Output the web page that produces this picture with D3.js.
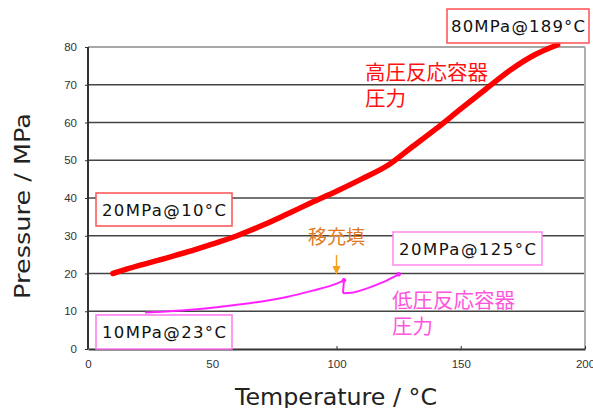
<!DOCTYPE html>
<html><head><meta charset="utf-8">
<script src="https://cdn.jsdelivr.net/npm/d3@7"></script>
<style>
body{margin:0;background:#fff;}
svg{display:block;}
</style></head>
<body>
<svg id="c" width="593" height="408"></svg>
<script>
// ---- data ----
const xTicks = [0, 50, 100, 150, 200];
const yTicks = [0, 10, 20, 30, 40, 50, 60, 70, 80];
const highTemp = [10, 20, 30, 40, 50, 60, 70, 80, 90, 100, 110, 121, 130, 140, 150, 160, 170, 180, 189];
const highPres = [20, 22, 23.8, 25.7, 27.8, 30, 32.7, 35.7, 38.8, 41.8, 45, 48.8, 53.3, 58.3, 63.6, 68.8, 73.9, 78, 80.6];
const lowTempA = [23, 30, 40, 50, 60, 70, 80, 90, 100, 103];
const lowPresA = [9.7, 9.9, 10.3, 10.9, 11.7, 12.6, 13.8, 15.4, 17.3, 18.2];
const lowTempB = [102.6, 106, 112, 118, 125];
const lowPresB = [14.8, 14.9, 16.0, 17.5, 19.8];
const boxLabels = ["80MPa@189°C", "20MPa@10°C", "10MPa@23°C", "20MPa@125°C"];
const arrowTemp = 100;

const svg = d3.select("#c");
const x = d3.scaleLinear([0, 200], [88, 585]);
const y = d3.scaleLinear([0, 80], [349, 47]);

// grid lines
svg.append("g").selectAll("line").data(yTicks.filter(d => d > 0)).join("line")
  .attr("x1", x(0)).attr("x2", x(200))
  .attr("y1", d => y(d)).attr("y2", d => y(d))
  .attr("stroke", d => d === 80 ? "#8a8a8a" : "#444").attr("stroke-width", 1.6);
// right border
svg.append("line").attr("x1", x(200)).attr("x2", x(200)).attr("y1", y(80)).attr("y2", y(0))
  .attr("stroke", "#b0b0b0").attr("stroke-width", 2);

// axes
const yAxis = svg.append("g").attr("transform", `translate(${x(0)},0)`)
  .call(d3.axisLeft(y).tickValues(yTicks).tickSize(3).tickPadding(8));
yAxis.select(".domain").attr("stroke", "#333").attr("stroke-width", 2).attr("d", `M0,${y(80)}V${y(0)}`);
yAxis.selectAll(".tick line").attr("stroke", "#333");
yAxis.selectAll("text").attr("font-family", "Liberation Sans, Arial, sans-serif").attr("font-size", 11.5).attr("fill", "#333");

const xAxis = svg.append("g").attr("transform", `translate(0,${y(0)})`)
  .call(d3.axisBottom(x).tickValues(xTicks).tickSizeInner(-3).tickSizeOuter(0).tickPadding(11));
xAxis.select(".domain").attr("stroke", "#333").attr("stroke-width", 2);
xAxis.selectAll(".tick line").attr("stroke", "#333");
xAxis.selectAll("text").attr("font-family", "Liberation Sans, Arial, sans-serif").attr("font-size", 11.5).attr("fill", "#333");

// axis titles
svg.append("text").attr("transform", "translate(30,206) rotate(-90)")
  .attr("text-anchor", "middle").attr("font-family", "DejaVu Sans, sans-serif").attr("font-size", 22)
  .attr("fill", "#222").attr("textLength", 186).attr("lengthAdjust", "spacingAndGlyphs").text("Pressure / MPa");
svg.append("text").attr("x", 336).attr("y", 405)
  .attr("text-anchor", "middle").attr("font-family", "DejaVu Sans, sans-serif").attr("font-size", 23)
  .attr("fill", "#222").attr("textLength", 202).attr("lengthAdjust", "spacingAndGlyphs").text("Temperature / °C");

// high pressure curve
const line = d3.line().x(d => x(d[0])).y(d => y(d[1])).curve(d3.curveMonotoneX);
svg.append("path").datum(d3.zip(highTemp, highPres)).attr("d", line)
  .attr("fill", "none").attr("stroke", "#ff0000").attr("stroke-width", 5.5).attr("stroke-linecap", "round");

// low pressure curve
svg.append("path").datum(d3.zip(lowTempA, lowPresA)).attr("d", line)
  .attr("fill", "none").attr("stroke", "#ff22ff").attr("stroke-width", 2);
svg.append("line")
  .attr("x1", x(lowTempA[lowTempA.length - 1])).attr("y1", y(lowPresA[lowPresA.length - 1]))
  .attr("x2", x(lowTempB[0])).attr("y2", y(lowPresB[0]))
  .attr("stroke", "#ff22ff").attr("stroke-width", 2);
svg.append("path").datum(d3.zip(lowTempB, lowPresB)).attr("d", line)
  .attr("fill", "none").attr("stroke", "#ff22ff").attr("stroke-width", 2);
svg.append("g").selectAll("circle")
  .data([[lowTempA[lowTempA.length - 1], lowPresA[lowPresA.length - 1]], [lowTempB[lowTempB.length - 1], lowPresB[lowPresB.length - 1]]])
  .join("circle").attr("cx", d => x(d[0])).attr("cy", d => y(d[1])).attr("r", 2.3).attr("fill", "#ff22ff");

// orange arrow
const ax = x(arrowTemp);
svg.append("line").attr("x1", ax).attr("x2", ax).attr("y1", 255).attr("y2", 267)
  .attr("stroke", "#f5a020").attr("stroke-width", 1.5);
svg.append("path").attr("d", `M${ax - 4},${266}L${ax + 4},${266}L${ax},${275}Z`).attr("fill", "#f5a020");
svg.append("text").attr("x", ax).attr("y", 244).attr("text-anchor", "middle")
  .attr("font-family", "Noto Sans CJK JP, sans-serif").attr("font-size", 19).attr("fill", "#e0781e").text("移充填");

// CJK labels
const cjk = "Noto Sans CJK JP, sans-serif";
svg.append("text").attr("x", 365).attr("y", 80).attr("font-family", cjk).attr("font-size", 20.5).attr("fill", "#ff1010").text("高圧反応容器");
svg.append("text").attr("x", 365).attr("y", 106).attr("font-family", cjk).attr("font-size", 20.5).attr("fill", "#ff1010").text("圧力");
svg.append("text").attr("x", 392).attr("y", 308).attr("font-family", cjk).attr("font-size", 20.5).attr("fill", "#ff55dd").text("低圧反応容器");
svg.append("text").attr("x", 392).attr("y", 334).attr("font-family", cjk).attr("font-size", 20.5).attr("fill", "#ff55dd").text("圧力");

// boxed labels
const boxes = [
  {t: boxLabels[0], x0: 447, y0: 9, w: 142, h: 34, c: "#ff5050", tl: 134},
  {t: boxLabels[1], x0: 96, y0: 193, w: 136, h: 33, c: "#ff5050", tl: 124},
  {t: boxLabels[2], x0: 96, y0: 315, w: 136, h: 34, c: "#ff77ee", tl: 124},
  {t: boxLabels[3], x0: 393, y0: 232, w: 149, h: 33, c: "#ff88ee", tl: 137}
];
const bg = svg.append("g").selectAll("g").data(boxes).join("g");
bg.append("rect").attr("x", d => d.x0).attr("y", d => d.y0).attr("width", d => d.w).attr("height", d => d.h)
  .attr("fill", "#fff").attr("stroke", d => d.c).attr("stroke-width", 1.5);
bg.append("text").attr("x", d => d.x0 + d.w / 2).attr("y", d => d.y0 + d.h / 2 + 6)
  .attr("text-anchor", "middle").attr("font-family", "DejaVu Sans, sans-serif").attr("font-size", 16.5)
  .attr("fill", "#111").attr("textLength", d => d.tl).attr("lengthAdjust", "spacing").text(d => d.t);
</script>
</body></html>
